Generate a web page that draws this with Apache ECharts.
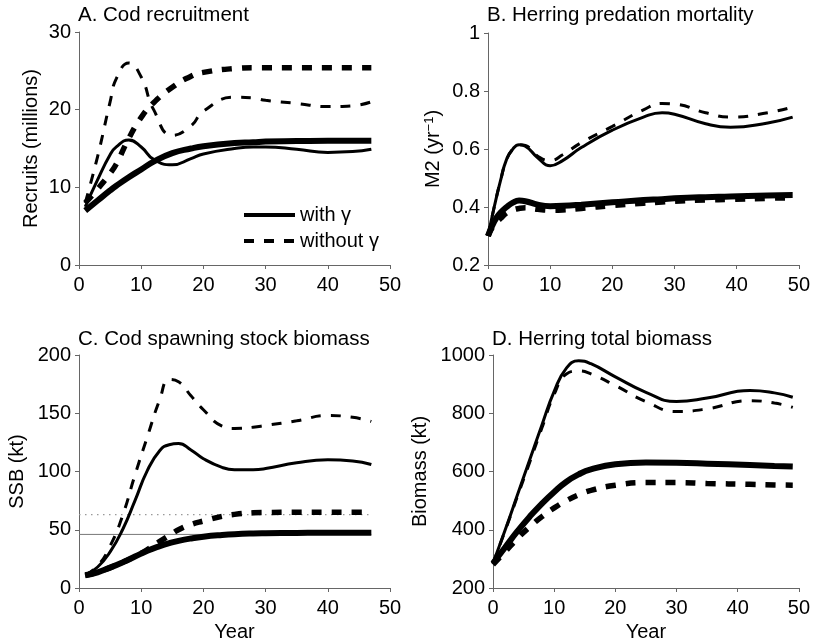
<!DOCTYPE html>
<html>
<head>
<meta charset="utf-8">
<script src="https://cdn.jsdelivr.net/npm/echarts@6/dist/echarts.min.js"></script>
<style>
html,body{margin:0;padding:0;background:#fff;}
#c{width:813px;height:644px;}
</style>
</head>
<body>
<div id="c"></div>
<script>
// ---------- Data ----------
// Panel A: Cod recruitment (millions)
const aYears      = [1, 3, 5, 6, 8, 10, 12, 15, 18, 20, 25, 28, 30, 35, 40, 44, 47];
const aWithThin   = [7.5, 11, 14.2, 15.2, 16.1, 15.2, 13.6, 12.9, 13.7, 14.3, 15.0, 15.2, 15.2, 14.9, 14.5, 14.6, 14.9];
const aWithThick  = [7, 8.3, 9.6, 10.2, 11.3, 12.3, 13.3, 14.4, 15.0, 15.3, 15.7, 15.8, 15.9, 15.95, 16, 16, 16];
const aWoThin     = [8, 14, 21, 24, 26, 24.2, 20, 16.7, 17.9, 19.8, 21.6, 21.5, 21.2, 20.8, 20.4, 20.5, 21];
const aWoThick    = [8, 9.8, 11.8, 13, 16.3, 19, 20.9, 22.9, 24.3, 24.8, 25.3, 25.4, 25.4, 25.4, 25.4, 25.4, 25.4];

// Panel B: Herring predation mortality M2 (yr^-1)
const bYears      = [0, 1, 2, 3, 4, 5, 6, 8, 10, 12, 15, 20, 25, 28, 30, 35, 39, 45, 49];
const bWithThin   = [0.30, 0.40, 0.49, 0.565, 0.60, 0.615, 0.61, 0.57, 0.542, 0.56, 0.605, 0.665, 0.71, 0.725, 0.72, 0.687, 0.675, 0.69, 0.71];
const bWoThin     = [0.30, 0.40, 0.49, 0.565, 0.60, 0.615, 0.612, 0.575, 0.56, 0.58, 0.622, 0.678, 0.735, 0.757, 0.755, 0.725, 0.71, 0.725, 0.745];
const bWithThick  = [0.30, 0.35, 0.38, 0.40, 0.415, 0.422, 0.42, 0.408, 0.403, 0.404, 0.408, 0.416, 0.424, 0.427, 0.43, 0.434, 0.436, 0.44, 0.441];
const bWoThick    = [0.30, 0.34, 0.36, 0.38, 0.39, 0.395, 0.397, 0.392, 0.389, 0.39, 0.395, 0.405, 0.413, 0.417, 0.42, 0.424, 0.426, 0.43, 0.432];

// Panel C: Cod spawning stock biomass (kt)
const cYears      = [1, 3, 5, 7, 9, 11, 13, 14.5, 16, 18, 20, 23, 25, 28, 30, 35, 40, 44, 47];
const cWithThin   = [11, 18, 31, 50, 75, 101, 118, 123, 124, 118.5, 111, 103.5, 101.5, 101.5, 102.5, 107.5, 110, 109, 106];
const cWoThin     = [11, 19, 36, 62, 97, 130, 162, 179, 177, 165, 153, 139, 137, 138, 139.5, 143.5, 148, 146.5, 143];
const cWithThick  = [11, 13.5, 17.5, 22, 27, 32, 36, 38.5, 40.5, 42.5, 44, 45.5, 46.2, 46.8, 47, 47.3, 47.5, 47.5, 47.5];
const cWoThick    = [11, 13.5, 17.5, 22, 27, 33, 40, 45, 50, 54.5, 57.5, 61.5, 63.2, 64.5, 64.8, 65, 65, 65, 65];
const cRefYears   = [0, 47];
const cRefSolid   = [46, 46];
const cRefDotted  = [63, 63];

// Panel D: Herring total biomass (kt)
const dYears      = [0, 2, 4, 6, 8, 10, 12, 14, 16, 20, 25, 30, 35, 42, 46, 49];
const dWithThin   = [285, 400, 520, 640, 760, 875, 955, 980, 970, 925, 872, 840, 852, 878, 870, 855];
const dWoThin     = [285, 398, 515, 632, 750, 865, 935, 945, 935, 895, 840, 806, 815, 843, 835, 820];
const dWithThick  = [285, 340, 395, 445, 490, 530, 565, 590, 607, 625, 631, 630, 627, 622, 619, 617];
const dWoThick    = [280, 325, 370, 410, 445, 475, 500, 520, 535, 553, 562, 562, 559, 556, 554, 553];

// ---------- Chart ----------
const FONT = "'Liberation Sans', Arial, Helvetica, sans-serif";
const FS = 20;
const zip = (xs, ys) => xs.map((x, i) => [x, ys[i]]);

const THIN = 3, THICK = 6;
const DASH = [10, 10];

function mkSeries(name, xi, years, vals, width, dashed) {
  return {
    name: name, type: 'line', xAxisIndex: xi, yAxisIndex: xi,
    data: zip(years, vals), smooth: true, symbol: 'none',
    lineStyle: { color: '#000', width: dashed && width > 4 ? width - 0.5 : width, type: dashed ? DASH : 'solid', cap: 'butt' },
    itemStyle: { color: '#000' },
    silent: true, animation: false, z: 3
  };
}

const grids = [
  { left: 79,  top: 32,  width: 311, height: 233 },
  { left: 488, top: 33,  width: 311, height: 232 },
  { left: 79,  top: 355, width: 311, height: 233 },
  { left: 493, top: 355, width: 306, height: 233 }
];

function xAx(i, withName) {
  return {
    type: 'value', gridIndex: i, min: 0, max: 50, interval: 10,
    name: withName ? 'Year' : '', nameLocation: 'middle', nameGap: 34,
    nameTextStyle: { fontFamily: FONT, fontSize: FS, color: '#000' },
    axisLine: { show: true, lineStyle: { color: '#666', width: 1 } },
    axisTick: { show: true, inside: false, length: 4, lineStyle: { color: '#666' } },
    axisLabel: { fontFamily: FONT, fontSize: FS, color: '#000', margin: 10 },
    splitLine: { show: false }
  };
}
function yAx(i, min, max, interval, name, gap) {
  return {
    type: 'value', gridIndex: i, min: min, max: max, interval: interval,
    name: name, nameLocation: 'middle', nameGap: gap,
    nameTextStyle: {
      fontFamily: FONT, fontSize: FS, color: '#000',
      rich: { sup: { fontFamily: FONT, fontSize: 13, color: '#000', verticalAlign: 'top', padding: [0, 0, 8, 0] },
              n: { fontFamily: FONT, fontSize: FS, color: '#000' } }
    },
    axisLine: { show: true, lineStyle: { color: '#666', width: 1 } },
    axisTick: { show: true, inside: false, length: 4, lineStyle: { color: '#666' } },
    axisLabel: { fontFamily: FONT, fontSize: FS, color: '#000', margin: 8, formatter: v => String(v) },
    splitLine: { show: false }
  };
}

const option = {
  backgroundColor: '#fff',
  animation: false,
  title: [
    { text: 'A. Cod recruitment', left: 78, top: 5 },
    { text: 'B. Herring predation mortality', left: 487, top: 5 },
    { text: 'C. Cod spawning stock biomass', left: 78, top: 329 },
    { text: 'D. Herring total biomass', left: 492, top: 329 }
  ].map(t => Object.assign(t, { padding: 0, textStyle: { fontFamily: FONT, fontSize: 20.5, fontWeight: 'normal', color: '#000' } })),
  legend: {
    data: ['with γ', 'without γ'],
    orient: 'vertical', left: 237, top: 200,
    itemWidth: 51, itemHeight: 20, itemGap: 6,
    textStyle: { fontFamily: FONT, fontSize: FS, color: '#000', lineHeight: 20 },
    lineStyle: { width: 4 },
    itemStyle: { opacity: 0 },
    selectedMode: false
  },
  grid: grids,
  xAxis: [xAx(0, false), xAx(1, false), xAx(2, true), xAx(3, true)],
  yAxis: [
    yAx(0, 0, 30, 10, 'Recruits (millions)', 38),
    yAx(1, 0.2, 1, 0.2, '{n|M2 (yr}{sup|−1}{n|)}', 44),
    yAx(2, 0, 200, 50, 'SSB (kt)', 52),
    yAx(3, 200, 1000, 200, 'Biomass (kt)', 63)
  ],
  series: [
    mkSeries('with γ', 0, aYears, aWithThin, THIN, false),
    mkSeries('without γ', 0, aYears, aWoThin, THIN, true),
    mkSeries('A with γ thick', 0, aYears, aWithThick, THICK, false),
    mkSeries('A without γ thick', 0, aYears, aWoThick, THICK, true),

    mkSeries('B with γ thin', 1, bYears, bWithThin, THIN, false),
    mkSeries('B without γ thin', 1, bYears, bWoThin, THIN, true),
    mkSeries('B with γ thick', 1, bYears, bWithThick, THICK, false),
    mkSeries('B without γ thick', 1, bYears, bWoThick, THICK, true),

    {
      name: 'C ref solid', type: 'line', xAxisIndex: 2, yAxisIndex: 2,
      data: zip(cRefYears, cRefSolid), symbol: 'none', silent: true, z: 1,
      lineStyle: { color: '#777', width: 1, type: 'solid' }
    },
    {
      name: 'C ref dotted', type: 'line', xAxisIndex: 2, yAxisIndex: 2,
      data: zip(cRefYears, cRefDotted), symbol: 'none', silent: true, z: 1,
      lineStyle: { color: '#999', width: 1.2, type: [1.5, 4.5] }
    },
    mkSeries('C with γ thin', 2, cYears, cWithThin, THIN, false),
    mkSeries('C without γ thin', 2, cYears, cWoThin, THIN, true),
    mkSeries('C with γ thick', 2, cYears, cWithThick, THICK, false),
    mkSeries('C without γ thick', 2, cYears, cWoThick, THICK, true),

    mkSeries('D with γ thin', 3, dYears, dWithThin, THIN, false),
    mkSeries('D without γ thin', 3, dYears, dWoThin, THIN, true),
    mkSeries('D with γ thick', 3, dYears, dWithThick, THICK, false),
    mkSeries('D without γ thick', 3, dYears, dWoThick, THICK, true)
  ]
};

const chart = echarts.init(document.getElementById('c'), null, { renderer: 'canvas' });
chart.setOption(option);
</script>
</body>
</html>
